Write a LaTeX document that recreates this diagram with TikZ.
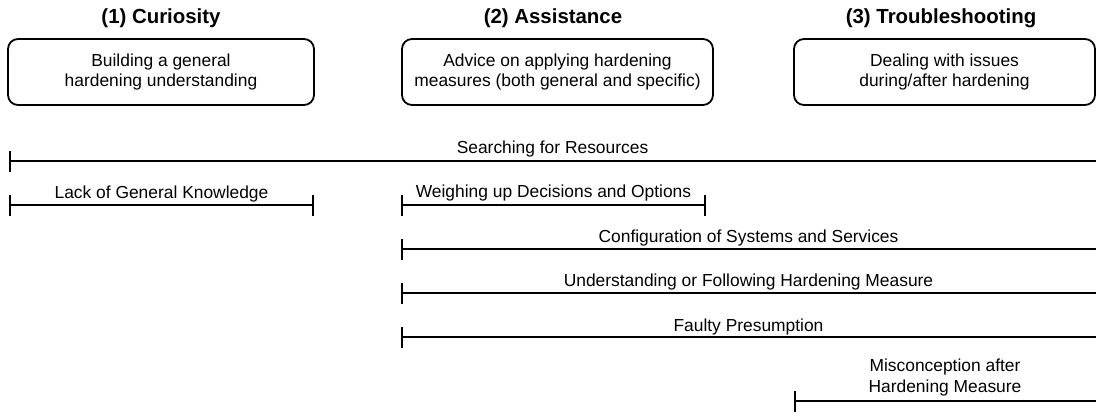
\documentclass[tikz,border=0pt]{standalone}
\usepackage{fontspec}
\setmainfont{Liberation Sans}
\usetikzlibrary{arrows.meta}

\begin{document}
\begin{tikzpicture}[x=1pt, y=-1pt,
    phase/.style={font=\fontsize{20.4}{24}\selectfont\bfseries, anchor=base, inner sep=0pt},
    goal/.style={draw, line width=1.8pt, rounded corners=10pt, align=center,
                 font=\fontsize{17.4}{20.5}\selectfont, inner sep=0pt},
    tag/.style={font=\fontsize{17.4}{20.5}\selectfont, inner sep=0pt},
    openspan/.style={line width=1.8pt, {Bar[width=21pt, line width=1.8pt]}-},
    closedspan/.style={line width=1.8pt, {Bar[width=21pt, line width=1.8pt]}-{Bar[width=21pt, line width=1.8pt]}},
  ]
  \useasboundingbox (0,0) rectangle (1096,416);

  % phase headings
  \node[phase] (h1) at (161,23) {(1) Curiosity};
  \node[phase] (h2) at (553,23) {(2) Assistance};
  \node[phase] (h3) at (941,23) {(3) Troubleshooting};

  % phase goals
  \node[goal, minimum width=306pt, minimum height=66pt] (g1) at (161,72)
    {Building a general\\hardening understanding};
  \node[goal, minimum width=311pt, minimum height=66pt] (g2) at (557.5,72)
    {Advice on applying hardening\\measures (both general and specific)};
  \node[goal, minimum width=301pt, minimum height=66pt] (g3) at (944.5,72)
    {Dealing with issues\\during/after hardening};

  % span end points
  \coordinate (sr-a) at (9,161);    \coordinate (sr-b) at (1096,161);
  \coordinate (lk-a) at (9,205);    \coordinate (lk-b) at (314,205);
  \coordinate (wd-a) at (401,205);  \coordinate (wd-b) at (706,205);
  \coordinate (cf-a) at (401,249);  \coordinate (cf-b) at (1096,249);
  \coordinate (uf-a) at (401,293);  \coordinate (uf-b) at (1096,293);
  \coordinate (fp-a) at (401,337);  \coordinate (fp-b) at (1096,337);
  \coordinate (mc-a) at (794,401);  \coordinate (mc-b) at (1096,401);

  % spans with their labels
  \draw[openspan] (sr-a) -- (sr-b)
    node[tag, midway, anchor=base, yshift=8pt] (sr) {Searching for Resources};
  \draw[closedspan] (lk-a) -- (lk-b)
    node[tag, midway, anchor=base, yshift=7pt] (lk) {Lack of General Knowledge};
  \draw[closedspan] (wd-a) -- (wd-b)
    node[tag, midway, anchor=base, yshift=7.5pt] (wd) {Weighing up Decisions and Options};
  \draw[openspan] (cf-a) -- (cf-b)
    node[tag, midway, anchor=base, yshift=6.5pt] (cf) {Configuration of Systems and Services};
  \draw[openspan] (uf-a) -- (uf-b)
    node[tag, midway, anchor=base, yshift=6.5pt] (uf) {Understanding or Following Hardening Measure};
  \draw[openspan] (fp-a) -- (fp-b)
    node[tag, midway, anchor=base, yshift=6pt] (fp) {Faulty Presumption};
  \draw[openspan] (mc-a) -- (mc-b)
    node[tag, midway, anchor=south, align=center, yshift=4pt] (mc)
      {Misconception after\\Hardening Measure};
\end{tikzpicture}
\end{document}
